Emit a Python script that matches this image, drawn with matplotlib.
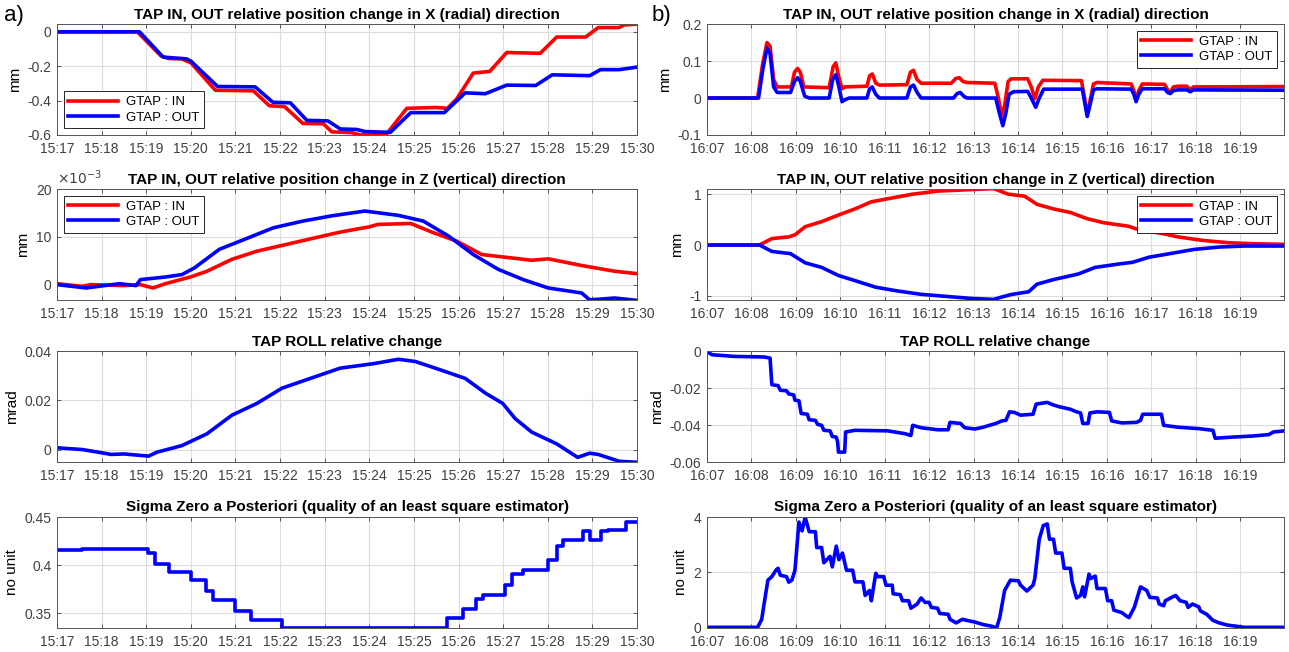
import matplotlib
matplotlib.use("Agg")
import matplotlib.pyplot as plt
from matplotlib.ticker import FuncFormatter

plt.rcParams["font.family"] = ["Liberation Sans", "DejaVu Sans"]
plt.rcParams["axes.unicode_minus"] = False

# ---- a) 15:17 - 15:30 (minutes after 15:00) ----
AX_IN_T = [17.0, 18.8, 19.33, 19.5, 19.8, 20.0, 20.55, 21.4, 21.76, 22.1, 22.51, 22.97, 23.16, 23.6,
           23.8, 24.37, 24.84, 25.5, 25.75, 25.96, 26.33, 26.7, 27.08, 27.83, 28.2, 28.85, 29.13, 29.6,
           29.7, 30.0]
AX_IN_V = [0, 0, -0.14, -0.155, -0.158, -0.18, -0.34, -0.343, -0.43, -0.435, -0.533, -0.535, -0.582,
           -0.586, -0.60, -0.60, -0.445, -0.44, -0.445, -0.39, -0.24, -0.23, -0.12, -0.125, -0.03,
           -0.03, 0.025, 0.025, 0.04, 0.045]
AX_OUT_T = [17.0, 18.85, 19.38, 19.9, 20.0, 20.6, 21.44, 21.84, 22.23, 22.6, 23.07, 23.35, 23.72, 23.9,
            24.47, 24.93, 25.68, 26.15, 26.6, 27.08, 27.73, 28.1, 28.94, 29.18, 29.6, 30.0]
AX_OUT_V = [0, 0, -0.147, -0.157, -0.17, -0.318, -0.32, -0.41, -0.413, -0.515, -0.518, -0.565, -0.568,
            -0.58, -0.585, -0.47, -0.47, -0.355, -0.36, -0.31, -0.312, -0.25, -0.255, -0.22, -0.22, -0.205]

AZ_IN_T = [17.0, 17.56, 17.75, 18.5, 18.87, 19.15, 19.43, 19.99, 20.36, 20.92, 21.48, 22.04, 22.69,
           23.35, 24.0, 24.19, 24.93, 25.4, 25.96, 26.52, 26.99, 27.64, 28.01, 28.76, 29.5, 30.0]
AZ_IN_V = [0.0002, -0.00035, 0.0, -0.0002, 0.0, -0.0007, 0.0002, 0.0016, 0.0028, 0.0053, 0.0070, 0.0082,
           0.0096, 0.0110, 0.0121, 0.0126, 0.0128, 0.0110, 0.0091, 0.0063, 0.0058, 0.0051, 0.0054,
           0.0040, 0.0028, 0.0023]
AZ_OUT_T = [17.0, 17.65, 18.4, 18.77, 18.87, 19.43, 19.8, 20.08, 20.64, 21.29, 21.85, 22.51, 23.16,
            23.9, 24.65, 25.21, 25.77, 26.33, 26.89, 27.45, 28.01, 28.76, 28.94, 29.5, 29.8, 30.0]
AZ_OUT_V = [0.0, -0.0007, 0.0002, -0.0002, 0.00105, 0.0016, 0.0021, 0.0035, 0.0074, 0.0098, 0.0119,
            0.0133, 0.0144, 0.0154, 0.0145, 0.0133, 0.0102, 0.0063, 0.0032, 0.00105, -0.0007, -0.00175,
            -0.0032, -0.0028, -0.0031, -0.0033]

AR_T = [17.0, 17.56, 17.93, 18.21, 18.5, 19.05, 19.24, 19.8, 20.36, 20.92, 21.48, 22.04, 22.79, 23.35,
        24.09, 24.65, 25.03, 25.59, 26.15, 26.61, 26.99, 27.27, 27.64, 28.2, 28.67, 28.94, 29.13, 29.6,
        30.0]
AR_V = [0.0007, 0.0, -0.0011, -0.002, -0.0018, -0.0027, -0.0011, 0.0016, 0.0064, 0.0140, 0.0188, 0.0250,
        0.0297, 0.0332, 0.0350, 0.0368, 0.0359, 0.0325, 0.0290, 0.0229, 0.0188, 0.0126, 0.0071, 0.0023,
        -0.0032, -0.0015, -0.0020, -0.0048, -0.0052]

AS_T = [17.0, 17.55, 19.05, 19.2, 19.5, 20.0, 20.35, 20.5, 21.0, 21.35, 22.05, 25.75, 26.1, 26.4,
        26.55, 27.05, 27.2, 27.45, 28.0, 28.2, 28.35, 28.8, 28.95, 29.2, 29.35, 29.75, 30.0]
AS_V = [0.4155, 0.4165, 0.413, 0.401, 0.393, 0.385, 0.373, 0.364, 0.353, 0.343, 0.335, 0.345, 0.355,
        0.365, 0.369, 0.379, 0.391, 0.395, 0.405, 0.420, 0.426, 0.436, 0.426, 0.435, 0.437, 0.445, 0.445]

# ---- b) 16:07 - 16:20 (minutes after 16:00) ----
BX_IN_T = [7.0, 8.14, 8.25, 8.35, 8.42, 8.5, 8.58, 8.9, 8.97, 9.04, 9.1, 9.18, 9.75, 9.84, 9.9, 9.96,
           10.04, 10.1, 10.6, 10.66, 10.72, 10.8, 10.88, 11.5, 11.58, 11.65, 11.73, 11.82, 12.5, 12.6,
           12.68, 12.76, 12.85, 13.48, 13.56, 13.63, 13.7, 13.78, 13.85, 14.22, 14.3, 14.38, 14.46,
           14.56, 15.43, 15.5, 15.56, 15.62, 15.7, 15.78, 16.55, 16.61, 16.66, 16.72, 16.8, 17.3, 17.38,
           17.43, 17.5, 17.6, 17.8, 17.88, 17.95, 20.0]
BX_IN_V = [0.0, 0.0, 0.09, 0.15, 0.14, 0.05, 0.03, 0.03, 0.07, 0.08, 0.07, 0.03, 0.028, 0.085, 0.095,
           0.06, 0.025, 0.03, 0.032, 0.06, 0.065, 0.04, 0.035, 0.036, 0.07, 0.075, 0.05, 0.04, 0.04,
           0.053, 0.055, 0.045, 0.042, 0.04, 0.0, -0.048, -0.02, 0.045, 0.052, 0.052, 0.03, -0.002,
           0.03, 0.048, 0.047, 0.0, -0.045, -0.01, 0.038, 0.042, 0.038, 0.02, -0.005, 0.02, 0.038,
           0.037, 0.02, 0.015, 0.03, 0.032, 0.032, 0.022, 0.03, 0.031]
BX_OUT_T = [7.0, 8.16, 8.26, 8.35, 8.42, 8.5, 8.58, 8.88, 8.97, 9.04, 9.1, 9.2, 9.3, 9.75, 9.83, 9.9,
            9.97, 10.04, 10.1, 10.2, 10.6, 10.66, 10.72, 10.8, 10.88, 11.5, 11.58, 11.65, 11.73, 11.82,
            12.55, 12.63, 12.7, 12.78, 12.85, 13.5, 13.58, 13.66, 13.73, 13.8, 13.9, 14.22, 14.3, 14.4,
            14.48, 14.58, 15.45, 15.5, 15.56, 15.62, 15.7, 15.78, 16.55, 16.61, 16.66, 16.72, 16.8,
            17.3, 17.37, 17.43, 17.5, 17.6, 17.8, 17.88, 17.95, 20.0]
BX_OUT_V = [0.0, 0.0, 0.08, 0.135, 0.12, 0.03, 0.015, 0.015, 0.045, 0.055, 0.045, 0.005, 0.0, 0.0,
            0.05, 0.063, 0.03, -0.01, -0.005, 0.0, 0.0, 0.025, 0.03, 0.01, 0.0, 0.0, 0.03, 0.035, 0.015,
            0.0, 0.0, 0.012, 0.015, 0.005, 0.0, 0.0, -0.04, -0.075, -0.04, 0.01, 0.017, 0.018, 0.0,
            -0.025, 0.0, 0.024, 0.024, -0.01, -0.05, -0.02, 0.022, 0.025, 0.024, 0.01, -0.01, 0.01,
            0.025, 0.025, 0.015, 0.012, 0.02, 0.022, 0.022, 0.017, 0.022, 0.021]

BZ_IN_T = [7.0, 8.18, 8.46, 8.84, 8.98, 9.21, 9.58, 9.96, 10.33, 10.7, 11.07, 11.63, 12.19, 12.94,
           13.45, 13.78, 14.15, 14.43, 14.8, 15.18, 15.55, 15.92, 16.48, 16.76, 17.23, 17.6, 18.16,
           18.72, 19.28, 20.0]
BZ_IN_V = [0.0, 0.0, 0.126, 0.16, 0.2, 0.36, 0.46, 0.59, 0.71, 0.85, 0.91, 1.0, 1.06, 1.09, 1.11,
           1.0, 0.96, 0.8, 0.71, 0.64, 0.52, 0.44, 0.37, 0.29, 0.23, 0.16, 0.09, 0.046, 0.026, 0.013]
BZ_OUT_T = [7.0, 8.18, 8.46, 8.88, 9.21, 9.58, 9.96, 10.33, 10.8, 11.26, 11.82, 12.38, 12.94, 13.45,
            13.69, 13.87, 14.24, 14.43, 14.8, 15.36, 15.74, 16.3, 16.58, 16.95, 17.42, 17.97, 18.53,
            19.09, 20.0]
BZ_OUT_V = [0.0, 0.0, -0.126, -0.17, -0.35, -0.44, -0.6, -0.7, -0.83, -0.9, -0.97, -1.01, -1.05, -1.07,
            -1.01, -0.97, -0.92, -0.77, -0.68, -0.57, -0.44, -0.37, -0.34, -0.24, -0.17, -0.086, -0.04,
            -0.02, -0.02]

BR_T = [7.0, 7.11, 7.35, 7.62, 8.28, 8.42, 8.46, 8.6, 8.65, 8.79, 8.84, 8.95, 8.98, 9.07, 9.12, 9.26,
        9.3, 9.44, 9.49, 9.58, 9.63, 9.77, 9.82, 9.91, 9.94, 9.96, 10.1, 10.12, 10.33, 11.07, 11.45,
        11.59, 11.63, 11.82, 12.19, 12.43, 12.47, 12.71, 12.8, 13.03, 13.22, 13.5, 13.64, 13.73, 13.81,
        13.92, 14.06, 14.34, 14.41, 14.66, 14.8, 14.94, 15.18, 15.32, 15.41, 15.46, 15.58, 15.62, 15.78,
        16.06, 16.11, 16.34, 16.67, 16.76, 16.81, 17.23, 17.28, 17.6, 18.07, 18.39, 18.44, 18.81, 19.28,
        19.65, 19.75, 20.0]
BR_V = [0.0, -0.0018, -0.0022, -0.0027, -0.003, -0.0036, -0.018, -0.0185, -0.021, -0.0213, -0.023,
        -0.0235, -0.0264, -0.0267, -0.0336, -0.034, -0.037, -0.0373, -0.0395, -0.04, -0.0427, -0.043,
        -0.046, -0.0464, -0.049, -0.0545, -0.0545, -0.0436, -0.0427, -0.043, -0.0445, -0.0455, -0.040,
        -0.0413, -0.0424, -0.0424, -0.0384, -0.039, -0.0413, -0.042, -0.041, -0.039, -0.0376, -0.0373,
        -0.0327, -0.033, -0.0345, -0.034, -0.0285, -0.0276, -0.029, -0.030, -0.0313, -0.0327, -0.0333,
        -0.039, -0.039, -0.0333, -0.0327, -0.033, -0.0376, -0.0387, -0.0384, -0.0373, -0.034, -0.034,
        -0.040, -0.041, -0.0418, -0.0427, -0.047, -0.0464, -0.0458, -0.045, -0.0436, -0.043]

BS_T = [7.0, 8.14, 8.23, 8.37, 8.46, 8.56, 8.6, 8.65, 8.79, 8.84, 8.91, 8.98, 9.07, 9.14, 9.21, 9.3,
        9.44, 9.47, 9.58, 9.63, 9.77, 9.82, 9.91, 9.97, 10.05, 10.14, 10.28, 10.33, 10.51, 10.56, 10.66,
        10.7, 10.8, 10.84, 10.98, 11.03, 11.17, 11.19, 11.35, 11.4, 11.54, 11.59, 11.73, 11.82, 11.91,
        12.0, 12.05, 12.19, 12.24, 12.43, 12.47, 12.61, 12.75, 12.85, 13.03, 13.22, 13.41, 13.52, 13.59,
        13.7, 13.83, 14.01, 14.06, 14.2, 14.34, 14.38, 14.48, 14.57, 14.66, 14.71, 14.8, 14.85, 14.99,
        15.04, 15.18, 15.22, 15.32, 15.41, 15.46, 15.5, 15.6, 15.64, 15.74, 15.78, 15.97, 16.02, 16.11,
        16.16, 16.34, 16.44, 16.5, 16.62, 16.76, 16.9, 16.97, 17.14, 17.18, 17.28, 17.32, 17.46, 17.55,
        17.65, 17.79, 17.83, 17.93, 18.07, 18.11, 18.25, 18.39, 18.53, 18.72, 18.91, 19.09, 20.0]
BS_V = [0.02, 0.02, 0.3, 1.72, 1.85, 2.1, 2.15, 1.9, 1.85, 1.65, 1.72, 2.08, 3.82, 3.5, 4.0, 3.47, 3.47,
        2.9, 2.9, 2.35, 2.58, 2.2, 2.95, 2.46, 2.7, 2.08, 2.08, 1.66, 1.66, 1.17, 1.35, 0.98, 1.97, 1.85,
        1.85, 1.54, 1.54, 1.23, 1.2, 0.98, 0.98, 0.71, 0.86, 1.08, 0.92, 0.92, 0.74, 0.71, 0.52, 0.49,
        0.31, 0.18, 0.31, 0.27, 0.21, 0.12, 0.06, 0.0, 0.37, 1.35, 1.72, 1.7, 1.54, 1.33, 1.54, 1.78,
        3.2, 3.69, 3.75, 3.2, 3.2, 2.7, 2.7, 2.15, 2.15, 1.66, 1.08, 1.17, 1.48, 1.12, 1.94, 1.78, 1.87,
        1.42, 1.42, 0.98, 0.98, 0.64, 0.55, 0.43, 0.37, 0.74, 1.48, 1.35, 1.1, 1.08, 0.86, 0.8, 0.98,
        1.1, 1.17, 0.98, 0.92, 0.74, 0.86, 0.76, 0.61, 0.49, 0.27, 0.18, 0.1, 0.06, 0.02, 0.02]

TITLE_X = "TAP IN, OUT relative position change in X (radial) direction"
TITLE_Z = "TAP IN, OUT relative position change in Z (vertical) direction"
TITLE_R = "TAP ROLL relative change"
TITLE_S = "Sigma Zero a Posteriori (quality of an least square estimator)"

LEFT_TICKS = list(range(17, 31))
RIGHT_TICKS = list(range(7, 20))

TICK_C = "#404040"
fig = plt.figure(figsize=(12.89, 6.52), dpi=100)

cols = [(57 / 1289, 580 / 1289), (707 / 1289, 577 / 1289)]
rows = [0.793, 0.540, 0.291, 0.037]
H = 0.170


def gfmt(scale=1.0):
    def f(v, p):
        v = v * scale
        if abs(v) < 1e-12:
            return "0"
        return f"{v:g}"
    return FuncFormatter(f)


def make_ax(c, r, hour, ticks, xlim, ylim, yticks, title, ylabel, scale=1.0):
    ax = fig.add_axes([cols[c][0], rows[r], cols[c][1], H])
    ax.set_xlim(*xlim)
    ax.set_ylim(*ylim)
    ax.set_xticks(ticks)
    ax.set_xticklabels([f"{hour}:{m:02d}" for m in ticks])
    ax.set_yticks(yticks)
    ax.yaxis.set_major_formatter(gfmt(scale))
    ax.grid(True, color="#dcdcdc", lw=0.8)
    ax.set_axisbelow(True)
    ax.tick_params(direction="in", length=3, width=0.6, colors=TICK_C, labelsize=10,
                   top=True, right=True)
    ax.tick_params(axis="x", pad=5)
    ax.tick_params(axis="y", pad=4)
    for s in ax.spines.values():
        s.set_color("#555555")
        s.set_linewidth(0.7)
    ax.set_title(title, fontsize=11, fontweight="bold", pad=4)
    ax.set_ylabel(ylabel, fontsize=11, labelpad=4)
    return ax


LW = 2.6
leg_kw = dict(fontsize=9.5, fancybox=False, edgecolor="#262626", handlelength=3.8,
              borderpad=0.35, labelspacing=0.25, handletextpad=0.6, framealpha=1)


def legend(ax, loc):
    l = ax.legend(loc=loc, **leg_kw)
    l.get_frame().set_linewidth(0.7)


# a) column
ax = make_ax(0, 0, 15, LEFT_TICKS, (17, 30), (-0.6, 0.045), [-0.6, -0.4, -0.2, 0], TITLE_X, "mm")
ax.plot(AX_IN_T, AX_IN_V, color="red", lw=LW, label="GTAP : IN")
ax.plot(AX_OUT_T, AX_OUT_V, color="blue", lw=LW, label="GTAP : OUT")
legend(ax, "lower left")

ax = make_ax(0, 1, 15, LEFT_TICKS, (17, 30), (-0.0032, 0.02), [0, 0.01, 0.02], TITLE_Z, "mm", 1e3)
ax.plot(AZ_IN_T, AZ_IN_V, color="red", lw=LW, label="GTAP : IN")
ax.plot(AZ_OUT_T, AZ_OUT_V, color="blue", lw=LW, label="GTAP : OUT")
ax.text(0.0, 1.015, r"$\times10^{-3}$", transform=ax.transAxes, fontsize=10, color=TICK_C,
        ha="left", va="bottom")
legend(ax, "upper left")

ax = make_ax(0, 2, 15, LEFT_TICKS, (17, 30), (-0.0052, 0.04), [0, 0.02, 0.04], TITLE_R, "mrad")
ax.plot(AR_T, AR_V, color="blue", lw=LW)

ax = make_ax(0, 3, 15, LEFT_TICKS, (17, 30), (0.335, 0.45), [0.35, 0.4, 0.45], TITLE_S, "no unit")
ax.step(AS_T, AS_V, where="post", color="blue", lw=LW)

# b) column
ax = make_ax(1, 0, 16, RIGHT_TICKS, (7, 19.99), (-0.1, 0.2), [-0.1, 0, 0.1, 0.2], TITLE_X, "mm")
ax.plot(BX_IN_T, BX_IN_V, color="red", lw=LW, label="GTAP : IN")
ax.plot(BX_OUT_T, BX_OUT_V, color="blue", lw=LW, label="GTAP : OUT")
legend(ax, "upper right")

ax = make_ax(1, 1, 16, RIGHT_TICKS, (7, 19.99), (-1.08, 1.1), [-1, 0, 1], TITLE_Z, "mm")
ax.plot(BZ_IN_T, BZ_IN_V, color="red", lw=LW, label="GTAP : IN")
ax.plot(BZ_OUT_T, BZ_OUT_V, color="blue", lw=LW, label="GTAP : OUT")
legend(ax, "upper right")

ax = make_ax(1, 2, 16, RIGHT_TICKS, (7, 19.99), (-0.06, 0.0), [-0.06, -0.04, -0.02, 0], TITLE_R, "mrad")
ax.plot(BR_T, BR_V, color="blue", lw=LW)

ax = make_ax(1, 3, 16, RIGHT_TICKS, (7, 19.99), (0, 4), [0, 2, 4], TITLE_S, "no unit")
ax.plot(BS_T, BS_V, color="blue", lw=LW)

fig.text(4 / 1289, 1 - 15 / 652, "a)", fontsize=16, va="center", ha="left")
fig.text(652 / 1289, 1 - 15 / 652, "b)", fontsize=16, va="center", ha="left")

fig.savefig("out.png", dpi=100)
